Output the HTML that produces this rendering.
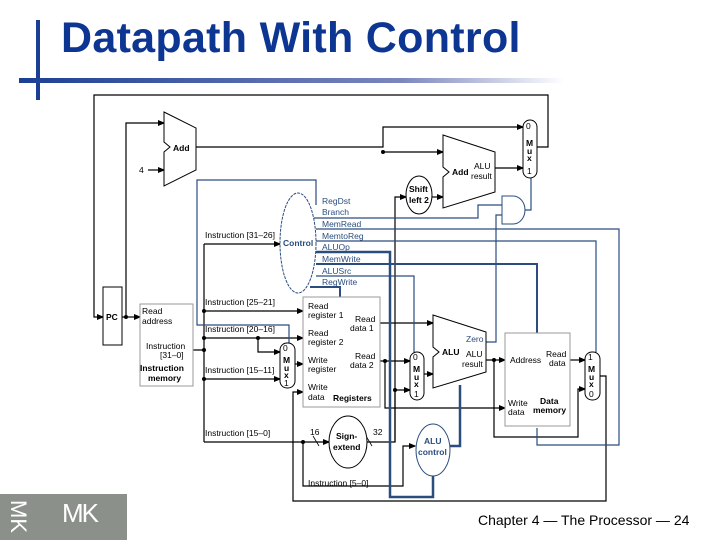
<!DOCTYPE html>
<html><head><meta charset="utf-8"><style>
body{margin:0;width:720px;height:540px;background:#fff;overflow:hidden;position:relative;font-family:"Liberation Sans",sans-serif}
.t{position:absolute;left:61px;top:14px;font-size:43px;font-weight:bold;color:#0d3592;letter-spacing:0.3px}
</style></head><body>
<div style="position:absolute;left:36px;top:20px;width:4px;height:80px;background:#1b3f94"></div>
<div style="position:absolute;left:19px;top:78px;width:545px;height:5px;background:linear-gradient(90deg,#1b3f94,#7b86bd 70%,#fff)"></div>
<div class="t">Datapath With Control</div>
<div style="position:absolute;left:0;top:494px;width:127px;height:46px;background:#8b908b"></div>
<div style="position:absolute;left:3px;top:500px;color:#fff;font-size:22px;transform:rotate(90deg);transform-origin:center;width:30px;height:30px;line-height:30px">MK</div>
<div style="position:absolute;left:62px;top:498px;color:#fff;font-size:26px;letter-spacing:-2px">MK</div>
<div style="position:absolute;left:478px;top:512px;font-size:14px">Chapter 4 — The Processor — 24</div>
<svg width="720" height="540" style="position:absolute;left:0;top:0" font-family="Liberation Sans,sans-serif" font-size="8.5">
<defs><marker id="a" markerWidth="6" markerHeight="6" refX="5" refY="3" orient="auto"><path d="M0,0.5L6,3L0,5.5z" fill="#000"/></marker></defs>
<g fill="none" stroke="#000" stroke-width="1.2">
<path d="M537,147H548V95H94V317H103" marker-end="url(#a)"/>
<path d="M122,317H126V123H164" marker-end="url(#a)"/>
<path d="M126,317H140" marker-end="url(#a)"/>
<path d="M148,170H164" marker-end="url(#a)"/>
<path d="M196,147H383V127H523" marker-end="url(#a)"/>
<path d="M383,152H443" marker-end="url(#a)"/>
<path d="M495,168H523" marker-end="url(#a)"/>
<path d="M432,197H443" marker-end="url(#a)"/>
<path d="M395,442V197H406" marker-end="url(#a)"/>
<path d="M193,350H204V442"/>
<path d="M204,244V350"/>
<path d="M204,244H280" marker-end="url(#a)"/>
<path d="M204,311H303" marker-end="url(#a)"/>
<path d="M204,338H303" marker-end="url(#a)"/>
<path d="M258,338V352H280" marker-end="url(#a)"/>
<path d="M204,379H280" marker-end="url(#a)"/>
<path d="M204,442H329" marker-end="url(#a)"/>
<path d="M303,442V486H403V446H415" marker-end="url(#a)"/>
<path d="M367,442H395V390H410" marker-end="url(#a)"/>
<path d="M295,364H303" marker-end="url(#a)"/>
<path d="M380,323H433" marker-end="url(#a)"/>
<path d="M380,361H410" marker-end="url(#a)"/>
<path d="M385,361V408H505" marker-end="url(#a)"/>
<path d="M424,374H433" marker-end="url(#a)"/>
<path d="M486,360H505" marker-end="url(#a)"/>
<path d="M494,360V437H578V389H585" marker-end="url(#a)"/>
<path d="M570,360H585" marker-end="url(#a)"/>
<path d="M600,376H606V501H293V392H303" marker-end="url(#a)"/>
<path d="M313,436L319,446M366,436L372,446" stroke-width="0.8"/>
</g>
<g fill="none" stroke="#2a4d7e" stroke-width="1.2">
<path d="M316,205V180H197V325H289V388"/>
<path d="M314,218H478V205H502"/>
<path d="M316,229H619V445H537V428"/>
<path d="M316,241H596V352"/>
<path d="M316,264H537V333" stroke-width="2"/>
<path d="M316,276H414V352"/>
<path d="M310,287H340V297" stroke-width="2"/>
<path d="M316,252H390V497H433V476" stroke-width="2.5"/>
<path d="M443,446H460V385" stroke-width="2.5"/>
<path d="M486,342H496V215H502"/>
<path d="M525,210H531V178"/>
</g>
<g fill="#000"><circle cx="126" cy="317" r="2"/><circle cx="383" cy="152" r="2"/><circle cx="204" cy="350" r="2"/><circle cx="204" cy="311" r="2"/><circle cx="204" cy="338" r="2"/><circle cx="204" cy="379" r="2"/><circle cx="258" cy="338" r="2"/><circle cx="303" cy="442" r="2"/><circle cx="395" cy="390" r="2"/><circle cx="385" cy="361" r="2"/><circle cx="494" cy="360" r="2"/></g>
<g fill="#fff" stroke="#000" stroke-width="1">
<path d="M164,112L196,128V170L164,186V152L170,147L164,142Z"/>
<path d="M443,135L495,152V192L443,208V177L449,172L443,167Z"/>
<path d="M433,315L486,332V372L433,388V357L439,352L433,347Z"/>
<rect x="103" y="287" width="19" height="58"/>
<rect x="140" y="304" width="53" height="82" stroke="#999"/>
<rect x="303" y="297" width="77" height="110" stroke="#999"/>
<rect x="505" y="333" width="65" height="93" stroke="#999"/>
<rect x="523" y="120" width="14" height="58" rx="7"/>
<rect x="280" y="343" width="15" height="45" rx="7"/>
<rect x="410" y="352" width="14" height="48" rx="7"/>
<rect x="585" y="352" width="15" height="48" rx="7"/>
<ellipse cx="419" cy="195" rx="13" ry="19"/>
<ellipse cx="348" cy="442" rx="19" ry="26"/>
<ellipse cx="298" cy="243" rx="18" ry="50" stroke="#2a4d7e" stroke-dasharray="3,1"/>
<ellipse cx="433" cy="450" rx="17" ry="26" stroke="#2a4d7e"/>
<path d="M502,196H513A12,14 0 0 1 513,224H502Z" stroke="#2a4d7e"/>
</g>
<g fill="#000">
<text x="173" y="151" font-weight="bold">Add</text><text x="139" y="173">4</text>
<text x="452" y="175" font-weight="bold">Add</text><text x="474" y="169">ALU</text><text x="471" y="179">result</text>
<text x="526" y="129">0</text><text x="526" y="146" font-weight="bold">M</text><text x="527" y="154" font-weight="bold">u</text><text x="527" y="161" font-weight="bold">x</text><text x="527" y="174">1</text>
<text x="409" y="192" font-weight="bold">Shift</text><text x="409" y="203" font-weight="bold">left 2</text>
<text x="106" y="320" font-weight="bold">PC</text>
<text x="142" y="314">Read</text><text x="142" y="324">address</text>
<text x="146" y="349">Instruction</text><text x="160" y="358">[31–0]</text>
<text x="140" y="371" font-weight="bold">Instruction</text><text x="148" y="381" font-weight="bold">memory</text>
<text x="205" y="238">Instruction [31–26]</text><text x="205" y="305">Instruction [25–21]</text><text x="205" y="332">Instruction [20–16]</text><text x="205" y="373">Instruction [15–11]</text><text x="205" y="436">Instruction [15–0]</text><text x="308" y="486">Instruction [5–0]</text>
<text x="308" y="309">Read</text><text x="308" y="318">register 1</text><text x="308" y="336">Read</text><text x="308" y="345">register 2</text><text x="308" y="363">Write</text><text x="308" y="372">register</text><text x="308" y="390">Write</text><text x="308" y="400">data</text>
<text x="355" y="322">Read</text><text x="350" y="331">data 1</text><text x="355" y="359">Read</text><text x="350" y="368">data 2</text><text x="333" y="401" font-weight="bold">Registers</text>
<text x="283" y="351">0</text><text x="283" y="363" font-weight="bold">M</text><text x="284" y="371" font-weight="bold">u</text><text x="284" y="378" font-weight="bold">x</text><text x="284" y="386">1</text>
<text x="413" y="360">0</text><text x="413" y="372" font-weight="bold">M</text><text x="414" y="380" font-weight="bold">u</text><text x="414" y="387" font-weight="bold">x</text><text x="414" y="397">1</text>
<text x="588" y="360">1</text><text x="588" y="372" font-weight="bold">M</text><text x="589" y="380" font-weight="bold">u</text><text x="589" y="387" font-weight="bold">x</text><text x="589" y="397">0</text>
<text x="442" y="355" font-weight="bold">ALU</text><text x="466" y="357">ALU</text><text x="462" y="367">result</text>
<text x="510" y="363">Address</text><text x="546" y="357">Read</text><text x="549" y="366">data</text><text x="508" y="406">Write</text><text x="508" y="415">data</text><text x="540" y="404" font-weight="bold">Data</text><text x="533" y="413" font-weight="bold">memory</text>
<text x="336" y="439" font-weight="bold">Sign-</text><text x="333" y="450" font-weight="bold">extend</text><text x="310" y="435">16</text><text x="373" y="435">32</text>
</g>
<g fill="#2a4d7e">
<text x="283" y="246" font-weight="bold">Control</text>
<text x="322" y="204">RegDst</text><text x="322" y="215">Branch</text><text x="322" y="227">MemRead</text><text x="322" y="239">MemtoReg</text><text x="322" y="250">ALUOp</text><text x="322" y="262">MemWrite</text><text x="322" y="274">ALUSrc</text><text x="322" y="285">RegWrite</text>
<text x="466" y="342">Zero</text><text x="424" y="444" font-weight="bold">ALU</text><text x="418" y="455" font-weight="bold">control</text>
</g>
</svg>
</body></html>
